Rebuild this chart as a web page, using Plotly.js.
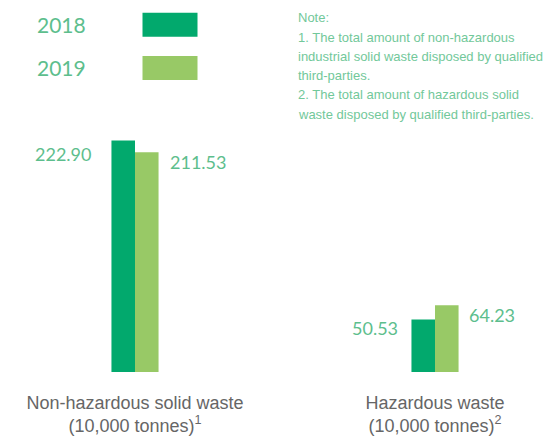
<!DOCTYPE html>
<html>
<head>
<meta charset="utf-8">
<script src="https://cdn.plot.ly/plotly-3.0.1.min.js"></script>
<style>html,body{margin:0;padding:0;background:#fff;}#chart{width:544px;height:443px;}</style>
</head>
<body>
<div id="chart"></div>
<script>
// ---- data ----
var categories = ["Non-hazardous solid waste", "Hazardous waste"];
var tickLabels = ["Non-hazardous solid waste<br>(10,000 tonnes)<sup>1</sup>", "Hazardous waste<br>(10,000 tonnes)<sup>2</sup>"];
var seriesNames = ["2018", "2019"];
var values2018 = [222.90, 50.53];
var values2019 = [211.53, 64.23];
var valueLabels2018 = ["222.90", "50.53"];
var valueLabels2019 = ["211.53", "64.23"];
var noteLines = [
  "Note:",
  "1. The total amount of non-hazardous",
  "industrial solid waste disposed by qualified",
  "third-parties.",
  "2. The total amount of hazardous solid",
  "waste disposed by qualified third-parties."
];

// ---- style ----
var W = 544, H = 443;
var M = {l: 0, r: 0, t: 100, b: 71};
var col2018 = "#02A96D", col2019 = "#98C966";
var labelColor = "#5DBE8D";
var numFont = "Lato, 'Open Sans', sans-serif";
var sansFont = "'Liberation Sans', Arial, sans-serif";

function px2paperX(p) { return (p - M.l) / (W - M.l - M.r); }
function px2paperY(p) { return (H - M.b - p) / (H - M.t - M.b); }

var xIdx = [0, 1];
var traces = [
  {type: "bar", name: seriesNames[0], x: xIdx, y: values2018, marker: {color: col2018}, hoverinfo: "none"},
  {type: "bar", name: seriesNames[1], x: xIdx, y: values2019, marker: {color: col2019}, hoverinfo: "none"}
];

// label offsets (pixels) per label
var off2018 = [{dx: -42, dy: -13}, {dx: -35, dy: -8}];
var off2019 = [{dx: 33, dy: -10}, {dx: 32, dy: -10}];

var annotations = [];
for (var i = 0; i < categories.length; i++) {
  annotations.push({xref: "x", yref: "y", x: xIdx[i], y: values2018[i], text: valueLabels2018[i],
    showarrow: false, xanchor: "right", yanchor: "middle", xshift: off2018[i].dx, yshift: off2018[i].dy,
    font: {family: numFont, size: 18, color: labelColor}});
  annotations.push({xref: "x", yref: "y", x: xIdx[i], y: values2019[i], text: valueLabels2019[i],
    showarrow: false, xanchor: "left", yanchor: "middle", xshift: off2019[i].dx, yshift: off2019[i].dy,
    font: {family: numFont, size: 18, color: labelColor}});
}
// legend texts
annotations.push({xref: "paper", yref: "paper", x: px2paperX(35), y: px2paperY(24), text: seriesNames[0],
  showarrow: false, xanchor: "left", yanchor: "middle", font: {family: numFont, size: 21, color: labelColor}});
annotations.push({xref: "paper", yref: "paper", x: px2paperX(35), y: px2paperY(67), text: seriesNames[1],
  showarrow: false, xanchor: "left", yanchor: "middle", font: {family: numFont, size: 21, color: labelColor}});
// note, one annotation per line
for (var j = 0; j < noteLines.length; j++) {
  annotations.push({xref: "paper", yref: "paper", x: px2paperX(296), y: px2paperY(18 + j * 19.2), text: noteLines[j],
    showarrow: false, xanchor: "left", yanchor: "middle", align: "left",
    font: {family: sansFont, size: 13, color: "#72C89A"}});
}

var shapes = [
  {type: "rect", xref: "paper", yref: "paper", x0: px2paperX(142.5), x1: px2paperX(197.5), y0: px2paperY(36.7), y1: px2paperY(12.7), fillcolor: col2018, line: {width: 0}},
  {type: "rect", xref: "paper", yref: "paper", x0: px2paperX(142.5), x1: px2paperX(197.5), y0: px2paperY(80), y1: px2paperY(56), fillcolor: col2019, line: {width: 0}}
];

var layout = {
  width: W, height: H,
  margin: M,
  paper_bgcolor: "#fff", plot_bgcolor: "#fff",
  showlegend: false,
  barmode: "group", bargap: 0.843, bargroupgap: 0,
  xaxis: {type: "linear", range: [-0.45, 1.3633], tickvals: xIdx, ticktext: tickLabels,
    showgrid: false, zeroline: false, showline: false, ticks: "outside", ticklen: 14, tickcolor: "rgba(0,0,0,0)",
    tickfont: {family: sansFont, size: 18, color: "#666666"}, fixedrange: true},
  yaxis: {range: [0, 261.9], visible: false, fixedrange: true},
  annotations: annotations,
  shapes: shapes
};

Plotly.newPlot("chart", traces, layout, {displayModeBar: false, staticPlot: true});
</script>
</body>
</html>
